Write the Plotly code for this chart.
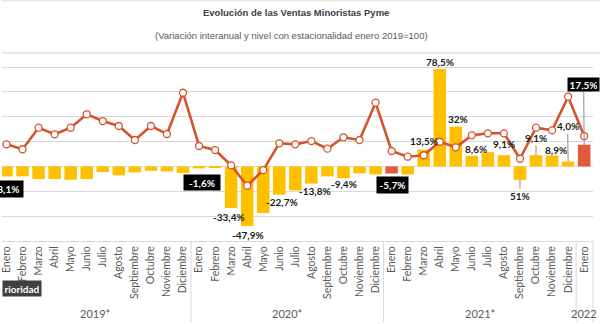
import plotly.graph_objects as go

# ---------------- data ----------------
month_names = ["Enero", "Febrero", "Marzo", "Abril", "Mayo", "Junio", "Julio",
               "Agosto", "Septiembre", "Octubre", "Noviembre", "Diciembre"]
months = month_names * 3 + ["Enero"]
years = ["2019*", "2020*", "2021*", "2022"]
year_sizes = [12, 12, 12, 1]

# variación interanual (%)
yoy = [-8.1, -8.0, -10.1, -10.1, -10.7, -10.1, -4.5, -7.2, -4.8, -3.5, -4.0, -5.3,
       -1.6, -0.8, -33.4, -47.9, -37.5, -22.7, -19.3, -13.8, -8.0, -9.4, -5.5, -6.4,
       -5.7, -6.5, 13.5, 78.5, 32.0, 8.6, 11.5, 9.1, -10.8, 9.1, 8.9, 4.0, 17.5]

# nivel con estacionalidad (enero 2019 = 100)
level = [100.0, 94.9, 117.2, 110.4, 117.2, 131.1, 124.1, 119.0, 104.5, 119.0, 110.7, 153.4,
         98.3, 94.1, 78.3, 57.2, 73.4, 101.1, 100.0, 103.4, 95.5, 107.3, 104.5, 143.1,
         93.1, 87.2, 88.7, 102.7, 96.9, 109.3, 111.4, 111.4, 85.1, 117.2, 114.5, 149.3, 108.6]

# etiquetas de datos mostradas
labels = ["-8,1%", None, None, None, None, None, None, None, None, None, None, None,
          "-1,6%", None, "-33,4%", "-47,9%", None, "-22,7%", None, "-13,8%", None, "-9,4%", None, None,
          "-5,7%", None, "13,5%", "78,5%", "32%", "8,6%", None, "9,1%", "51%", "9,1%", "8,9%", "4,0%",
          "17,5%"]

# ---------------- styling ----------------
W, H = 600, 324
PLOT_TOP, PLOT_BOTTOM, PLOT_RIGHT = 53, 241, 593
PH = PLOT_BOTTOM - PLOT_TOP


def py(p):
    return (PLOT_BOTTOM - p) / PH


def pxp(p):
    return p / PLOT_RIGHT


YELLOW = "#FFC000"
RED = "#E05B3C"
LINE = "#D4552D"
GRID = "#D9D9D9"
n = len(months)
x = list(range(n))
highlight = {24, 36}
bar_colors = [RED if i in highlight else YELLOW for i in x]

fig = go.Figure()
fig.add_trace(go.Bar(x=x, y=yoy, marker=dict(color=bar_colors, line=dict(width=0)),
                     yaxis="y", hoverinfo="skip"))
fig.add_trace(go.Scatter(x=x, y=level, yaxis="y2", mode="lines+markers",
                         line=dict(color=LINE, width=2.6),
                         marker=dict(size=7, color="white", line=dict(color=LINE, width=1.3)),
                         hoverinfo="skip"))

# label offsets (px): (dx, dy) relative to the bar end; leader -> draw connector
offsets = {0: (0, 12), 12: (3, 14), 14: (-2, 9), 15: (1, 9), 17: (3, 7), 19: (3.5, 7.5),
           21: (0.5, 5.5), 24: (0.5, 11.5), 26: (0.5, -8.6), 27: (0.5, -7), 28: (1.7, -7.6),
           29: (4, -6.4), 31: (0, -11), 32: (0, 16.3), 33: (0, -17), 34: (3.6, -5.5),
           35: (-0.5, -35), 36: (-0.5, -60)}
leaders = {32, 33, 35, 36}
boxed = {0: (30, 13), 12: (33, 12), 24: (28, 13), 36: (28, 10)}

annotations = []
for i, lab in enumerate(labels):
    if lab is None:
        continue
    dx, dy = offsets[i]
    a = dict(x=i, y=yoy[i], xref="x", yref="y", text="<b>%s</b>" % lab,
             font=dict(family="Lato", size=10, color="white" if i in boxed else "#1a1a1a"))
    if i in boxed:
        w, h = boxed[i]
        a.update(bgcolor="black", width=w, height=h, borderpad=1.5)
    if i in leaders:
        a.update(showarrow=True, arrowhead=0, arrowwidth=1, arrowcolor="#8c8c8c",
                 ax=dx, ay=dy, standoff=0)
    else:
        a.update(showarrow=False, xshift=dx, yshift=-dy)
    annotations.append(a)

# year group labels
start = 0
for yname, size in zip(years, year_sizes):
    center = start + (size - 1) / 2
    annotations.append(dict(x=center, y=py(313), xref="x", yref="paper", text=yname,
                            yanchor="middle", showarrow=False,
                            font=dict(family="Lato", size=11, color="#595959")))
    start += size

# titles
annotations.append(dict(x=pxp(295), y=py(13), xref="paper", yref="paper", yanchor="middle",
                        text="<b>Evolución de las Ventas Minoristas Pyme</b>", showarrow=False,
                        font=dict(family="Liberation Sans", size=9.5, color="#404040")))
annotations.append(dict(x=pxp(290), y=py(36), xref="paper", yref="paper", yanchor="middle",
                        text="(Variación interanual y nivel con estacionalidad enero 2019=100)",
                        showarrow=False,
                        font=dict(family="Liberation Sans", size=9.5, color="#595959")))
# tooltip fragment
annotations.append(dict(x=0, y=py(288.5), xref="paper", yref="paper", xanchor="left",
                        yanchor="middle",
                        text="<b>rioridad</b>", showarrow=False, bgcolor="#404040",
                        width=35, height=12, borderpad=1.5,
                        font=dict(family="Lato", size=10, color="white")))

shapes = []
start = 0
for size in year_sizes[:-1]:
    b = start + size - 0.5
    shapes.append(dict(type="line", xref="x", yref="paper", x0=b, x1=b, y0=0, y1=py(322),
                       line=dict(color=GRID, width=1)))
    start += size
shapes.append(dict(type="line", xref="paper", yref="paper", x0=1, x1=1, y0=0, y1=py(322),
                   line=dict(color=GRID, width=1)))
shapes.append(dict(type="line", xref="paper", yref="paper", x0=0, x1=W / PLOT_RIGHT,
                   y0=1, y1=1, line=dict(color="#CFCFCF", width=1)))
shapes.append(dict(type="line", xref="paper", yref="paper", x0=0, x1=W / PLOT_RIGHT,
                   y0=py(0.5), y1=py(0.5), line=dict(color="#E6E6E6", width=1.5)))

fig.update_layout(
    width=W, height=H,
    margin=dict(l=0, r=W - PLOT_RIGHT, t=PLOT_TOP, b=H - PLOT_BOTTOM),
    paper_bgcolor="white", plot_bgcolor="white",
    showlegend=False, bargap=0.22,
    xaxis=dict(range=[-0.28, 36.55], tickmode="array", tickvals=x, ticktext=months,
               tickangle=-90, tickfont=dict(family="Lato", size=10.5, color="#595959"),
               ticklabeloverflow="allow",
               showgrid=False, zeroline=False, showline=True, linecolor=GRID, linewidth=1,
               ticks="", fixedrange=True),
    yaxis=dict(range=[-60, 91.3], tick0=0, dtick=20, showticklabels=False,
               gridcolor=GRID, gridwidth=1, zeroline=False, fixedrange=True),
    yaxis2=dict(range=[0, 194.5], overlaying="y", visible=False, fixedrange=True),
    annotations=annotations, shapes=shapes,
)

fig.write_html("out.html")
